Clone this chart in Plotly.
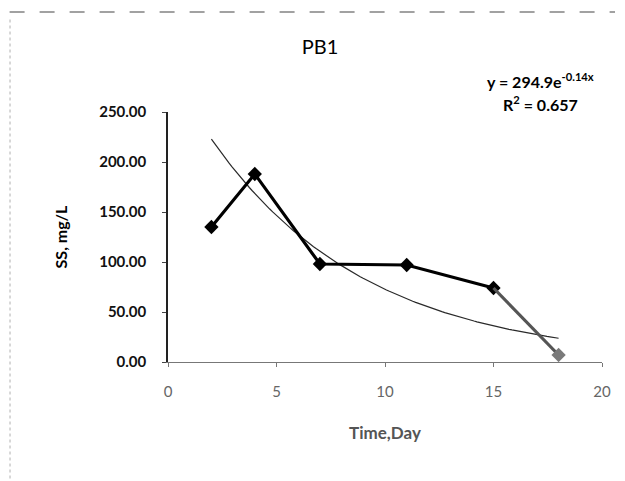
import numpy as np
import plotly.graph_objects as go

# Suspended solids measured in basin PB1
days = [2, 4, 7, 11, 15, 18]
ss_mg_l = [135, 188, 98, 97, 74, 7]

# Exponential trendline y = a * exp(b * x)
fit_a = 294.9
fit_b = -0.14
fit_r2 = 0.657

x_ticks = [0, 5, 10, 15, 20]
y_ticks = [0, 50, 100, 150, 200, 250]

trend_x = np.linspace(min(days), max(days), 120)
trend_y = fit_a * np.exp(fit_b * trend_x)

FONT = "Lato, 'Open Sans', sans-serif"

fig = go.Figure()

fig.add_trace(go.Scatter(
    x=trend_x, y=trend_y, mode="lines",
    line=dict(color="#2a2a2a", width=1.2),
    hoverinfo="skip", showlegend=False,
))

fig.add_trace(go.Scatter(
    x=days[:-1], y=ss_mg_l[:-1], mode="lines+markers",
    line=dict(color="#000000", width=3.2),
    marker=dict(symbol="diamond", size=11, color="#000000"),
    showlegend=False,
))
# final segment and point printed lighter
fig.add_trace(go.Scatter(
    x=days[-2:], y=ss_mg_l[-2:], mode="lines",
    line=dict(color="#555555", width=3.2),
    showlegend=False,
))
fig.add_trace(go.Scatter(
    x=days[-1:], y=ss_mg_l[-1:], mode="markers",
    marker=dict(symbol="diamond", size=11, color="#7a7a7a"),
    showlegend=False,
))

fig.update_layout(
    width=625, height=481,
    margin=dict(l=168, r=23, t=112, b=119),
    paper_bgcolor="white", plot_bgcolor="white",
    font=dict(family=FONT, color="#000000"),
    title=dict(text="PB1", x=0.512, xanchor="center", y=0.902, yanchor="middle",
               font=dict(family=FONT, size=20, color="#000000")),
    xaxis=dict(
        range=[0, 20], tickvals=x_ticks, ticktext=[str(v) for v in x_ticks],
        showgrid=False, zeroline=False,
        showline=True, linecolor="#777777", linewidth=1,
        ticks="outside", ticklen=4, tickcolor="#777777",
        ticklabelstandoff=12,
        tickfont=dict(family=FONT, size=15, color="#666666"),
        title=dict(text="<b>Time,Day</b>", standoff=28,
                   font=dict(family=FONT, size=17, color="#555555")),
    ),
    yaxis=dict(
        range=[0, 250], tickvals=y_ticks, ticktext=[f"<b>{v:.2f}</b>" for v in y_ticks],
        showgrid=False, zeroline=False,
        showline=True, linecolor="#222222", linewidth=1.5,
        ticks="outside", ticklen=4, tickcolor="#444444",
        ticklabelstandoff=13,
        tickfont=dict(family=FONT, size=15, color="#111111"),
        title=dict(text="<b>SS, mg/L</b>", standoff=28,
                   font=dict(family=FONT, size=16, color="#000000")),
    ),
)

fig.add_annotation(
    xref="paper", yref="paper", x=0.859, y=1.124, xanchor="center", yanchor="middle",
    text=f"<b>y = {fit_a}e<sup>{fit_b}x</sup></b>", showarrow=False,
    font=dict(family=FONT, size=16, color="#000000"),
)
fig.add_annotation(
    xref="paper", yref="paper", x=0.859, y=1.036, xanchor="center", yanchor="middle",
    text=f"<b>R<sup>2</sup> = {fit_r2}</b>", showarrow=False,
    font=dict(family=FONT, size=16, color="#000000"),
)

# chart-area border along the top and left edges
fig.add_shape(type="line", xref="paper", yref="paper", x0=-0.365, x1=1.03, y0=1.40, y1=1.40,
              line=dict(color="#444444", width=1.2, dash="longdash"))
fig.add_shape(type="line", xref="paper", yref="paper", x0=-0.364, x1=-0.364, y0=1.37, y1=-0.47,
              line=dict(color="#b0b0b0", width=1, dash="dot"))

fig.write_html("out.html")
